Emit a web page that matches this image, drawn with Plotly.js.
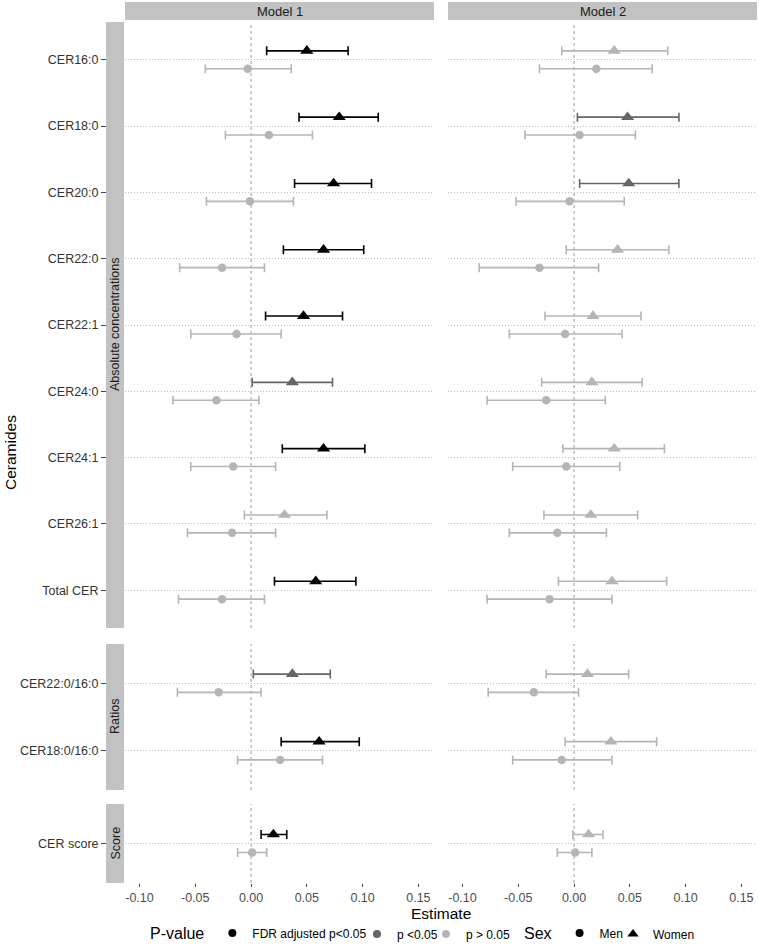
<!DOCTYPE html>
<html><head><meta charset="utf-8">
<script src="https://cdn.plot.ly/plotly-3.0.1.min.js"></script>
<style>html,body{margin:0;padding:0;background:#fff}#chart{width:759px;height:945px}</style>
</head><body><div id="chart"></div>
<script>
// ---------- data ----------
const categories = ['CER16:0','CER18:0','CER20:0','CER22:0','CER22:1','CER24:0','CER24:1','CER26:1','Total CER',
                    'CER22:0/16:0','CER18:0/16:0','CER score'];
const groups = ['Absolute concentrations','Absolute concentrations','Absolute concentrations','Absolute concentrations',
                'Absolute concentrations','Absolute concentrations','Absolute concentrations','Absolute concentrations',
                'Absolute concentrations','Ratios','Ratios','Score'];
const panelNames = ['Absolute concentrations','Ratios','Score'];
const modelNames = ['Model 1','Model 2'];
const pLevels = ['FDR adjusted p<0.05','p <0.05','p > 0.05'];
const sexLevels = ['Men','Women'];

// Model 1
const m1WomenEst = [0.050, 0.079, 0.074, 0.065, 0.047, 0.037, 0.065, 0.030, 0.058, 0.037, 0.061, 0.020];
const m1WomenLo  = [0.014, 0.043, 0.039, 0.029, 0.013, 0.001, 0.028, -0.006, 0.021, 0.002, 0.027, 0.009];
const m1WomenHi  = [0.087, 0.114, 0.108, 0.101, 0.082, 0.073, 0.102, 0.068, 0.094, 0.071, 0.097, 0.032];
const m1WomenSig = [0, 0, 0, 0, 0, 1, 0, 2, 0, 1, 0, 0];
const m1MenEst = [-0.003, 0.016, -0.001, -0.026, -0.013, -0.031, -0.016, -0.017, -0.026, -0.029, 0.026, 0.001];
const m1MenLo  = [-0.041, -0.023, -0.040, -0.064, -0.054, -0.070, -0.054, -0.057, -0.065, -0.066, -0.012, -0.012];
const m1MenHi  = [0.036, 0.055, 0.038, 0.012, 0.027, 0.007, 0.022, 0.022, 0.012, 0.009, 0.064, 0.014];
const m1MenSig = [2, 2, 2, 2, 2, 2, 2, 2, 2, 2, 2, 2];
// Model 2
const m2WomenEst = [0.036, 0.048, 0.049, 0.039, 0.017, 0.016, 0.036, 0.015, 0.034, 0.012, 0.033, 0.013];
const m2WomenLo  = [-0.011, 0.003, 0.005, -0.007, -0.026, -0.029, -0.010, -0.027, -0.014, -0.025, -0.008, -0.001];
const m2WomenHi  = [0.084, 0.094, 0.094, 0.085, 0.060, 0.061, 0.081, 0.057, 0.083, 0.049, 0.074, 0.026];
const m2WomenSig = [2, 1, 1, 2, 2, 2, 2, 2, 2, 2, 2, 2];
const m2MenEst = [0.020, 0.005, -0.004, -0.031, -0.008, -0.025, -0.007, -0.015, -0.022, -0.036, -0.011, 0.001];
const m2MenLo  = [-0.031, -0.044, -0.052, -0.085, -0.058, -0.078, -0.055, -0.058, -0.078, -0.077, -0.055, -0.015];
const m2MenHi  = [0.070, 0.055, 0.045, 0.022, 0.043, 0.028, 0.041, 0.029, 0.034, 0.004, 0.034, 0.016];
const m2MenSig = [2, 2, 2, 2, 2, 2, 2, 2, 2, 2, 2, 2];

// ---------- style ----------
const FONT = '"Liberation Sans", Arial, Helvetica, sans-serif';
const pColors = ['#000000', '#666666', '#b5b5b5'];
const sexSymbols = {Men: 'circle', Women: 'triangle-up'};
const sexSizes = {Men: 8.5, Women: 11.5};
const sexOffset = {Men: 0.135, Women: -0.135};
const STRIP = '#c2c2c2';

const series = [
  {model: 0, sex: 'Women', est: m1WomenEst, lo: m1WomenLo, hi: m1WomenHi, sig: m1WomenSig},
  {model: 0, sex: 'Men',   est: m1MenEst,   lo: m1MenLo,   hi: m1MenHi,   sig: m1MenSig},
  {model: 1, sex: 'Women', est: m2WomenEst, lo: m2WomenLo, hi: m2WomenHi, sig: m2WomenSig},
  {model: 1, sex: 'Men',   est: m2MenEst,   lo: m2MenLo,   hi: m2MenHi,   sig: m2MenSig}
];

const panelIdx = groups.map(g => panelNames.indexOf(g));
const withinIdx = categories.map((c, i) => groups.slice(0, i).filter(g => g === groups[i]).length);
const yNames = ['y', 'y2', 'y3'];
const xNames = ['x', 'x2'];

const traces = [];
series.forEach(s => {
  for (let p = 0; p < panelNames.length; p++) {
    for (let lvl = pLevels.length - 1; lvl >= 0; lvl--) {
      const idx = categories.map((c, i) => i).filter(i => panelIdx[i] === p && s.sig[i] === lvl);
      if (!idx.length) continue;
      traces.push({
        type: 'scatter', mode: 'markers',
        xaxis: xNames[s.model], yaxis: yNames[p],
        x: idx.map(i => s.est[i]),
        y: idx.map(i => withinIdx[i] + sexOffset[s.sex]),
        error_x: {type: 'data', symmetric: false,
                  array: idx.map(i => s.hi[i] - s.est[i]),
                  arrayminus: idx.map(i => s.est[i] - s.lo[i]),
                  color: pColors[lvl], thickness: 1.6, width: 4.5},
        marker: {symbol: sexSymbols[s.sex], size: sexSizes[s.sex], color: pColors[lvl], line: {width: 0}},
        showlegend: false, hoverinfo: 'skip'
      });
    }
  }
});

// ---------- layout ----------
const W = 759, H = 945, ML = 125, MR = 2, MT = 22, MB = 62;
const pw = W - ML - MR, ph = H - MT - MB;
const px2x = px => (px - ML) / pw;
const py2y = py => (H - MB - py) / ph;

// legend entries: one small legend per key so the keys sit close to where the reference has them
const legendSpecs = [
  {id: 'legend',  left: 148, title: 'P-value'},
  {id: 'legend2', left: 357},
  {id: 'legend3', left: 426},
  {id: 'legend4', left: 522, title: 'Sex'},
  {id: 'legend5', left: 613}
];
pLevels.forEach((lv, k) => traces.push({
  type: 'scatter', mode: 'markers', x: [null], y: [null], name: lv, legend: legendSpecs[k].id,
  marker: {symbol: 'circle', size: 8, color: pColors[k]}, showlegend: true
}));
sexLevels.forEach((sx, k) => traces.push({
  type: 'scatter', mode: 'markers', x: [null], y: [null], name: sx, legend: legendSpecs[3 + k].id,
  marker: {symbol: sexSymbols[sx], size: sx === 'Men' ? 8 : 10, color: '#000'}, showlegend: true
}));

const xDomains = [[0, px2x(434)], [px2x(448), 1]];
const yDomains = [[py2y(628), 1], [py2y(790), py2y(644)], [0, py2y(804)]];
const yRanges = [[8.57, -0.57], [1.58, -0.58], [0.59, -0.59]];
const xRange = [-0.113, 0.164];

const layout = {
  width: W, height: H,
  margin: {l: ML, r: MR, t: MT, b: MB, autoexpand: false},
  paper_bgcolor: '#fff', plot_bgcolor: '#fff',
  font: {family: FONT, size: 12, color: '#333'},
  shapes: [], annotations: []
};
legendSpecs.forEach(ls => {
  const lg = {orientation: 'h', yanchor: 'middle', y: py2y(934), xanchor: 'left', x: px2x(ls.left),
    font: {size: 12, color: '#000'}, itemwidth: 30, tracegroupgap: 0, bgcolor: 'rgba(0,0,0,0)'};
  if (ls.title) lg.title = {text: ls.title, side: 'left', font: {size: 16, color: '#000'}};
  layout[ls.id] = lg;
});

xNames.forEach((xn, m) => {
  const key = m === 0 ? 'xaxis' : 'xaxis2';
  layout[key] = {
    domain: xDomains[m], anchor: 'y3', range: xRange,
    tickvals: [-0.10, -0.05, 0, 0.05, 0.10, 0.15],
    ticktext: ['-0.10', '-0.05', '0.00', '0.05', '0.10', '0.15'],
    showgrid: false, zeroline: false, showline: false,
    ticks: 'outside', ticklen: 3, tickcolor: '#444', tickwidth: 1,
    tickfont: {size: 12.5, color: '#4d4d4d'}
  };
  layout.shapes.push({type: 'rect', xref: xn + ' domain', yref: 'paper', x0: 0, x1: 1,
    y0: py2y(20), y1: py2y(2), fillcolor: STRIP, line: {width: 0}, layer: 'above'});
  layout.annotations.push({xref: xn + ' domain', yref: 'paper', x: 0.5, y: py2y(11),
    text: modelNames[m], showarrow: false, font: {size: 13, color: '#1a1a1a'}, yanchor: 'middle'});
});

panelNames.forEach((pn, p) => {
  const key = p === 0 ? 'yaxis' : 'yaxis' + (p + 1);
  const cats = categories.filter((c, i) => panelIdx[i] === p);
  layout[key] = {
    domain: yDomains[p], anchor: 'x', range: yRanges[p],
    tickvals: cats.map((c, i) => i), ticktext: cats,
    showgrid: true, gridcolor: '#bcbcbc', griddash: '1px,2px', gridwidth: 1,
    zeroline: false, showline: false,
    ticks: 'outside', ticklen: 23, tickcolor: '#444', tickwidth: 1,
    tickfont: {size: 12.5, color: '#333'}
  };
  layout.shapes.push({type: 'rect', xref: 'paper', yref: yNames[p] + ' domain',
    x0: px2x(106), x1: px2x(124), y0: 0, y1: 1, fillcolor: STRIP, line: {width: 0}, layer: 'above'});
  layout.annotations.push({xref: 'paper', yref: yNames[p] + ' domain', x: px2x(115), y: 0.5,
    text: pn, textangle: -90, showarrow: false, font: {size: 12.5, color: '#1a1a1a'},
    xanchor: 'center', yanchor: 'middle'});
  xNames.forEach(xn => layout.shapes.push({type: 'line', xref: xn, yref: yNames[p] + ' domain',
    x0: 0, x1: 0, y0: 0, y1: 1, line: {color: '#a3a3a3', width: 1.1, dash: '3px,3px'}, layer: 'below'}));
});

layout.annotations.push({xref: 'paper', yref: 'paper', x: 0.5, y: py2y(913), text: 'Estimate',
  showarrow: false, font: {size: 15.5, color: '#000'}, yanchor: 'middle'});
layout.annotations.push({xref: 'paper', yref: 'paper', x: px2x(10), y: py2y(453), text: 'Ceramides',
  textangle: -90, showarrow: false, font: {size: 15.5, color: '#000'}, xanchor: 'center', yanchor: 'middle'});

Plotly.newPlot('chart', traces, layout, {displayModeBar: false, staticPlot: true});
</script></body></html>
